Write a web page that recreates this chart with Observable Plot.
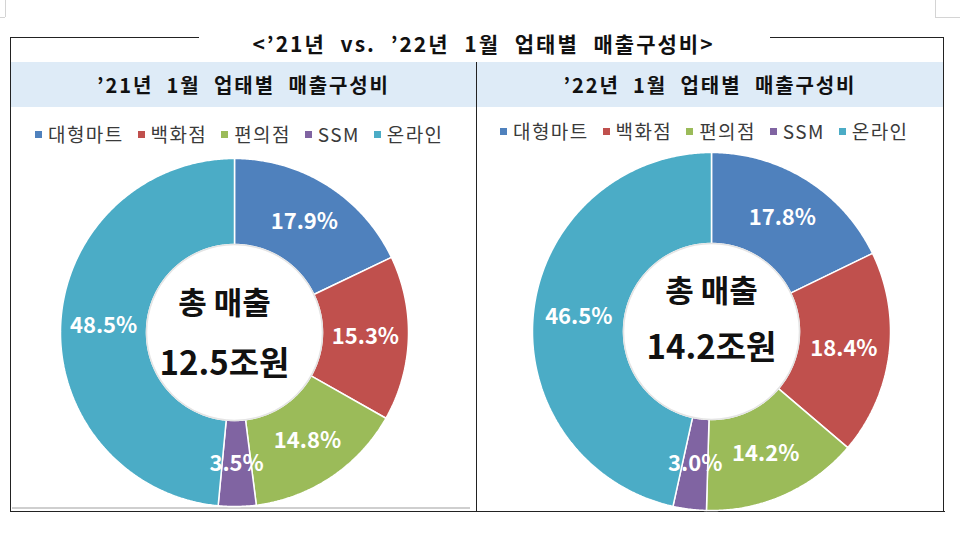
<!DOCTYPE html>
<html>
<head>
<meta charset="utf-8">
<script src="https://cdn.jsdelivr.net/npm/d3@7"></script>
<script src="https://cdn.jsdelivr.net/npm/@observablehq/plot@0.6"></script>
<style>
  body { margin: 0; background: #fff; font-family: "Noto Sans CJK KR", "Noto Sans", sans-serif; }
  #page { position: relative; width: 960px; height: 533px; overflow: hidden; background: #fff; }
  .abs { position: absolute; }
  .hline { position: absolute; height: 0; border-top: 1.5px solid #222; }
  .vline { position: absolute; width: 0; border-left: 1.5px solid #222; }
  .title { position: absolute; top: 30px; left: 0; width: 967px; text-align: center; font-weight: 700; font-size: 21px; line-height: 26px; color: #111; letter-spacing: 2px; word-spacing: 8px; white-space: nowrap; }
  .band { position: absolute; top: 62px; height: 45px; background: #deebf7; }
  .bandtext { position: absolute; top: 0; left: 0; width: 100%; line-height: 45px; text-align: center; font-weight: 700; font-size: 20px; color: #111; letter-spacing: 1.9px; word-spacing: 7px; white-space: nowrap; }
  .legend { position: absolute; display: flex; align-items: center; white-space: nowrap; font-size: 19px; color: #3a3a3a; letter-spacing: 1.4px; line-height: 22px; }
  .legend .item { display: flex; align-items: center; margin-right: 14px; }
  .legend .sw { width: 7px; height: 7px; margin-right: 6px; }
  .chart { position: absolute; }
  g[aria-label="pct"] text { letter-spacing: 0.8px; }
  g[aria-label="center"] text { letter-spacing: 1.5px; word-spacing: 14px; }
  g[aria-label="total"] text { letter-spacing: 0.3px; }
</style>
</head>
<body>
<div id="page"></div>
<script>
// ---------------- data ----------------
const categories = ["대형마트", "백화점", "편의점", "SSM", "온라인"];
const share2021 = [17.9, 15.3, 14.8, 3.5, 48.5];
const share2022 = [17.8, 18.4, 14.2, 3.0, 46.5];
const mainTitle = "<’21년 vs. ’22년 1월 업태별 매출구성비>";
const panelTitles = ["’21년 1월 업태별 매출구성비", "’22년 1월 업태별 매출구성비"];
const centerLabel = "총 매출";
const totals = ["12.5조원", "14.2조원"];
const palette = ["#4f81bd", "#c0504d", "#9bbb59", "#8064a2", "#4bacc6"];

// ---------------- layout helpers ----------------
const page = document.getElementById("page");
function el(cls, style, text) {
  const d = document.createElement("div");
  d.className = cls;
  Object.assign(d.style, style);
  if (text != null) d.textContent = text;
  page.appendChild(d);
  return d;
}

// corner marks (page artifacts)
el("abs", {left: "0px", top: "17px", width: "5px", height: "0", borderTop: "1px solid #d4d4d4"});
el("abs", {left: "5px", top: "0px", width: "0", height: "17px", borderLeft: "1px solid #d4d4d4"});
el("abs", {left: "935px", top: "17px", width: "25px", height: "0", borderTop: "1px solid #d4d4d4"});
el("abs", {left: "935px", top: "0px", width: "0", height: "17px", borderLeft: "1px solid #d4d4d4"});

// header bands
const bandL = el("band", {left: "11px", width: "465px"});
const bandR = el("band", {left: "477px", width: "466px"});
const tL = document.createElement("div"); tL.className = "bandtext"; tL.textContent = panelTitles[0]; bandL.appendChild(tL);
const tR = document.createElement("div"); tR.className = "bandtext"; tR.textContent = panelTitles[1]; bandR.appendChild(tR);

// frame
el("hline", {left: "10px", top: "37px", width: "189px"});
el("hline", {left: "770px", top: "37px", width: "174px"});
el("vline", {left: "10px", top: "37px", height: "475px"});
el("vline", {left: "943px", top: "37px", height: "475px"});
el("vline", {left: "476px", top: "62px", height: "450px"});
el("hline", {left: "10px", top: "511px", width: "935px"});
el("abs", {left: "12px", top: "507px", width: "458px", height: "2px", background: "#cfcfcf"});

// title
el("title", {}, mainTitle);

// legends
function legend(left, top) {
  const lg = el("legend", {left: left + "px", top: top + "px"});
  categories.forEach((c, i) => {
    const it = document.createElement("div"); it.className = "item";
    const sw = document.createElement("div"); sw.className = "sw"; sw.style.background = palette[i];
    const tx = document.createElement("span"); tx.textContent = c;
    it.appendChild(sw); it.appendChild(tx); lg.appendChild(it);
  });
}
legend(35, 123);
legend(500, 120);

// ---------------- donuts ----------------
function donut(values, total, o) {
  const sum = d3.sum(values);
  const slices = [];
  let acc = 0;
  values.forEach((v, i) => {
    const a0 = acc / sum * 2 * Math.PI;
    acc += v;
    const a1 = acc / sum * 2 * Math.PI;
    slices.push({cat: categories[i], value: v, a0, a1});
  });
  const pts = [];
  for (const s of slices) {
    const n = Math.max(4, Math.ceil((s.a1 - s.a0) / (Math.PI / 360)));
    const ring = [];
    for (let k = 0; k <= n; k++) {
      const a = s.a0 + (s.a1 - s.a0) * k / n;
      ring.push({cat: s.cat, x: o.rOuter * Math.sin(a), y: -o.rOuter * Math.cos(a)});
    }
    for (let k = n; k >= 0; k--) {
      const a = s.a0 + (s.a1 - s.a0) * k / n;
      ring.push({cat: s.cat, x: o.rInner * Math.sin(a), y: -o.rInner * Math.cos(a)});
    }
    ring.push({...ring[0]});
    pts.push(...ring);
  }
  const rl = (o.rOuter + o.rInner) / 2;
  const labels = slices.map(s => {
    const m = (s.a0 + s.a1) / 2;
    return {...s, lx: rl * Math.sin(m), ly: -rl * Math.cos(m)};
  });
  const W = o.width, H = o.height;
  const chart = Plot.plot({
    width: W, height: H,
    margin: 0,
    x: {domain: [-o.cx, W - o.cx], range: [0, W], axis: null},
    y: {domain: [-o.cy, H - o.cy], range: [0, H], axis: null},
    color: {domain: categories, range: palette},
    style: {background: "transparent", overflow: "visible"},
    marks: [
      Plot.line(pts, {x: "x", y: "y", z: "cat", fill: "cat", stroke: "white", strokeWidth: 1.5, curve: "linear", strokeLinejoin: "miter"}),
      Plot.dot([0], {x: () => 0, y: () => 0, r: o.rInner, fill: "white", stroke: "#e4e4e4", strokeWidth: 1.5}),
      Plot.text(labels, {x: "lx", y: "ly", text: d => d.value.toFixed(1) + "%", fill: "white", fontWeight: "bold", fontSize: 22, fontFamily: "Noto Sans CJK KR", ariaLabel: "pct"}),
      Plot.text([centerLabel], {x: () => 0, y: () => 0, dx: o.dx, dy: o.dy1, text: d => d, fill: "#111", fontWeight: "bold", fontSize: 31, fontFamily: "Noto Sans CJK KR", ariaLabel: "center"}),
      Plot.text([total], {x: () => 0, y: () => 0, dx: o.dx, dy: o.dy2, text: d => d, fill: "#111", fontWeight: "bold", fontSize: 33, fontFamily: "Noto Sans CJK KR", ariaLabel: "total"})
    ]
  });
  const wrap = el("chart", {left: o.left + "px", top: o.top + "px"});
  wrap.appendChild(chart);
}

donut(share2021, totals[0], {left: 12, top: 145, width: 462, height: 364, cx: 222, cy: 187, rOuter: 174, rInner: 88, dx: -10, dy1: -28, dy2: 32});
donut(share2022, totals[1], {left: 478, top: 145, width: 464, height: 366, cx: 233, cy: 186, rOuter: 179, rInner: 88, dx: 0, dy1: -39, dy2: 17});
</script>
</body>
</html>
